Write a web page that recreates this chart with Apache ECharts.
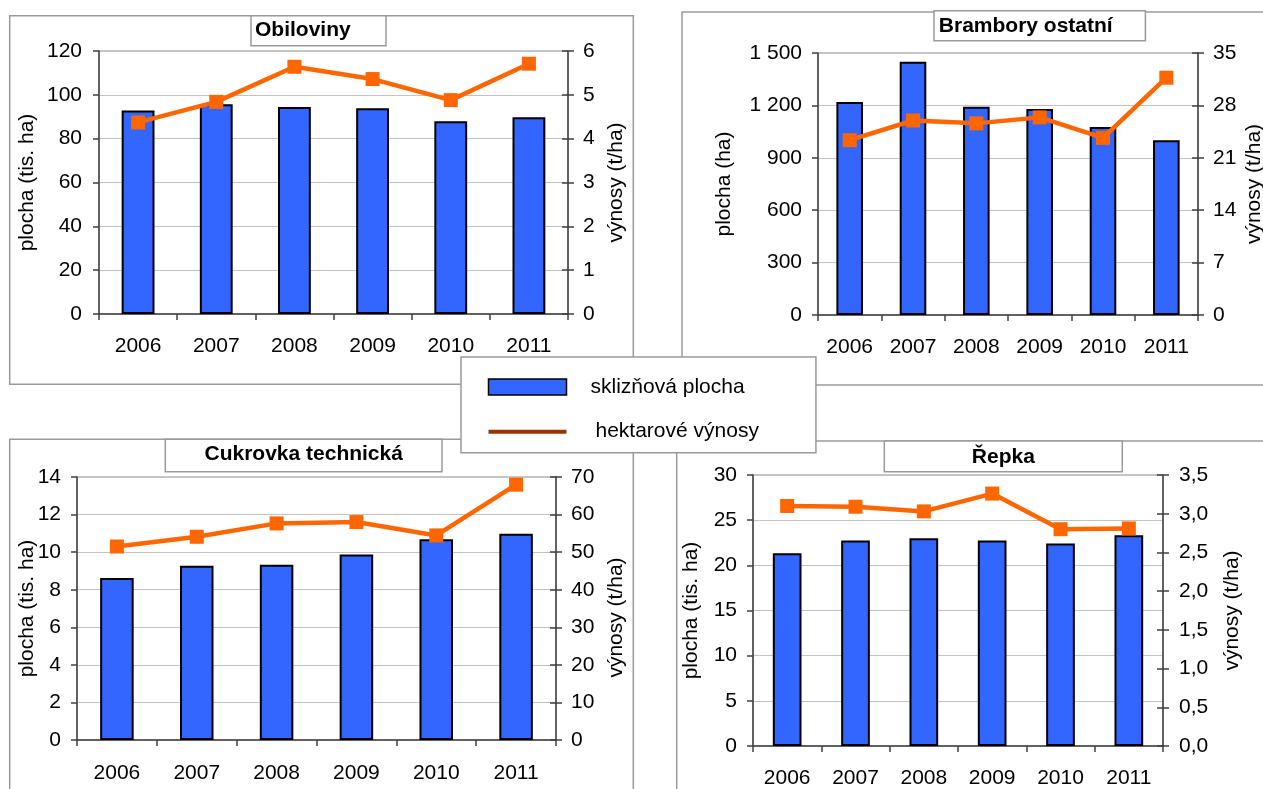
<!DOCTYPE html>
<html>
<head>
<meta charset="utf-8">
<script src="https://cdn.jsdelivr.net/npm/echarts@6/dist/echarts.min.js"></script>
<style>
html,body{margin:0;padding:0;background:#fff;}
#chart{width:1263px;height:789px;}
</style>
</head>
<body>
<div id="chart"></div>
<script>
// ---------- data ----------
const categories = ['2006', '2007', '2008', '2009', '2010', '2011'];
const panelTitles = ['Obiloviny', 'Brambory ostatní', 'Cukrovka technická', 'Řepka'];
const leftAxisNames = ['plocha (tis. ha)', 'plocha (ha)', 'plocha (tis. ha)', 'plocha (tis. ha)'];
const rightAxisName = 'výnosy (t/ha)';
const seriesNames = ['sklizňová plocha', 'hektarové výnosy'];

const obilovinyPlocha = [92.9, 95.7, 94.5, 93.9, 87.9, 89.8];
const obilovinyVynosy = [4.37, 4.84, 5.64, 5.36, 4.88, 5.71];
const bramboryPlocha = [1219, 1450, 1192, 1179, 1077, 1001];
const bramboryVynosy = [23.35, 25.98, 25.6, 26.4, 23.66, 31.7];
const cukrovkaPlocha = [8.62, 9.27, 9.33, 9.88, 10.68, 10.98];
const cukrovkaVynosy = [51.5, 54.1, 57.65, 58.0, 54.45, 67.96];
const repkaPlocha = [21.34, 22.74, 23.0, 22.74, 22.41, 23.33];
const repkaVynosy = [3.1, 3.09, 3.03, 3.26, 2.8, 2.81];

// axis scales: [min, max, interval]
const leftScales = [[0, 120, 20], [0, 1500, 300], [0, 14, 2], [0, 30, 5]];
const rightScales = [[0, 6, 1], [0, 35, 7], [0, 70, 10], [0, 3.5, 0.5]];

const plochaData = [obilovinyPlocha, bramboryPlocha, cukrovkaPlocha, repkaPlocha];
const vynosyData = [obilovinyVynosy, bramboryVynosy, cukrovkaVynosy, repkaVynosy];

// ---------- layout / style ----------
const FONT = '"Liberation Sans", Arial, sans-serif';
const AXIS_COLOR = '#404040';
const FRAME_COLOR = '#9a9a9a';

const gridBoxes = [
  { left: 99, top: 51, width: 469, height: 263 },
  { left: 818, top: 53, width: 380, height: 262 },
  { left: 77, top: 477, width: 479, height: 263 },
  { left: 753, top: 475, width: 410, height: 271 }
];
const leftNameGaps = [61, 83, 39, 51];
const rightNameGaps = [37.5, 45.5, 49.5, 58.5];
const rightNamePadding = [[0, 0, 0, 0], [0, 0, 0, 0], [0, 18, 0, 0], [0, 0, 0, 0]];
const xLabelMargins = [22, 22, 23, 22];
const leftLabelMargins = [17, 16, 16, 16];
const rightLabelMargins = [15, 15, 15, 16];

const frames = [
  { x: 9.7, y: 15.7, width: 623.6, height: 368.6 },
  { x: 682, y: 12, width: 700, height: 373 },
  { x: 9.7, y: 439.3, width: 623.6, height: 400 },
  { x: 676.7, y: 441, width: 700, height: 400 }
];
const titleBoxes = [
  { x: 251, y: 15.7, width: 135, height: 30, tx: 255, ty: 30, align: 'left' },
  { x: 934, y: 10.7, width: 211.4, height: 30, tx: 938.8, ty: 25.8, align: 'left' },
  { x: 165.3, y: 439.3, width: 276.7, height: 32.4, tx: 303.7, ty: 454.7, align: 'center' },
  { x: 884.3, y: 441, width: 238, height: 30.7, tx: 1003.3, ty: 457, align: 'center' }
];

const leftFormatters = [
  v => String(v),
  v => (v >= 1000 ? String(v).replace(/(\d)(\d{3})$/, '$1 $2') : String(v)),
  v => String(v),
  v => String(v)
];
const rightFormatters = [
  v => String(v),
  v => String(v),
  v => String(v),
  v => v.toFixed(1).replace('.', ',')
];

const axisLineStyle = { color: AXIS_COLOR, width: 1.5 };
const labelStyle = { color: '#000', fontSize: 21, fontFamily: FONT };

const grid = [], xAxis = [], yAxis = [], series = [], graphic = [];

for (let i = 0; i < 4; i++) {
  grid.push(Object.assign({}, gridBoxes[i], {
    show: true, borderColor: '#8c8c8c', borderWidth: 1, backgroundColor: 'transparent',
    containLabel: false, outerBoundsMode: 'none'
  }));
  xAxis.push({
    type: 'category', gridIndex: i, data: categories, boundaryGap: true,
    axisLine: { show: true, onZero: false, lineStyle: axisLineStyle },
    axisTick: { show: true, length: 6, inside: false, lineStyle: axisLineStyle },
    axisLabel: Object.assign({ margin: xLabelMargins[i], interval: 0 }, labelStyle),
    splitLine: { show: false }
  });
  const ls = leftScales[i], rs = rightScales[i];
  yAxis.push({
    type: 'value', gridIndex: i, position: 'left',
    min: ls[0], max: ls[1], interval: ls[2],
    name: leftAxisNames[i], nameLocation: 'middle', nameGap: leftNameGaps[i], nameMoveOverlap: false,
    nameTextStyle: { color: '#000', fontSize: 21, fontFamily: FONT },
    axisLine: { show: true, onZero: false, lineStyle: axisLineStyle },
    axisTick: { show: true, length: 6, inside: false, lineStyle: axisLineStyle },
    axisLabel: Object.assign({ margin: leftLabelMargins[i], formatter: leftFormatters[i] }, labelStyle),
    splitLine: { show: true, lineStyle: { color: '#c2c2c2', width: 1 } }
  });
  yAxis.push({
    type: 'value', gridIndex: i, position: 'right',
    min: rs[0], max: rs[1], interval: rs[2],
    name: rightAxisName, nameLocation: 'middle', nameGap: rightNameGaps[i], nameMoveOverlap: false,
    nameTextStyle: { color: '#000', fontSize: 21, fontFamily: FONT, padding: rightNamePadding[i] },
    axisLine: { show: true, onZero: false, lineStyle: axisLineStyle },
    axisTick: { show: true, length: 6, inside: false, lineStyle: axisLineStyle },
    axisLabel: Object.assign({ margin: rightLabelMargins[i], formatter: rightFormatters[i] }, labelStyle),
    splitLine: { show: false }
  });
  // companion axis giving the right axis its inner tick half (crossing ticks)
  yAxis.push({
    type: 'value', gridIndex: i, position: 'right',
    min: rs[0], max: rs[1], interval: rs[2],
    axisLine: { show: false },
    axisTick: { show: true, length: 6, inside: true, lineStyle: axisLineStyle },
    axisLabel: { show: false },
    splitLine: { show: false }
  });
  series.push({
    type: 'bar', name: seriesNames[0], xAxisIndex: i, yAxisIndex: 3 * i,
    data: plochaData[i], barWidth: '42%',
    itemStyle: { color: '#3366FF', borderColor: '#000', borderWidth: 2 },
    emphasis: { disabled: true }, z: 2
  });
  series.push({
    type: 'line', name: seriesNames[1], xAxisIndex: i, yAxisIndex: 3 * i + 1,
    data: vynosyData[i], symbol: 'rect', symbolSize: 14, showAllSymbol: true,
    itemStyle: { color: '#FF6600' }, lineStyle: { color: '#FF6600', width: 4.5 },
    emphasis: { disabled: true }, z: 3
  });

  const f = frames[i];
  graphic.push({
    type: 'rect', silent: true, z: 0,
    shape: { x: f.x, y: f.y, width: f.width, height: f.height },
    style: { fill: 'none', stroke: FRAME_COLOR, lineWidth: 1.5 }
  });
  const t = titleBoxes[i];
  graphic.push({
    type: 'rect', silent: true, z: 1,
    shape: { x: t.x, y: t.y, width: t.width, height: t.height },
    style: { fill: '#fff', stroke: FRAME_COLOR, lineWidth: 1.5 }
  });
  graphic.push({
    type: 'text', silent: true, z: 2, x: t.tx, y: t.ty,
    style: {
      text: panelTitles[i], fill: '#000',
      font: 'bold 21px "Liberation Sans", Arial, sans-serif',
      align: t.align, verticalAlign: 'middle',
      textAlign: t.align, textVerticalAlign: 'middle'
    }
  });
}

const option = {
  animation: false,
  backgroundColor: '#fff',
  textStyle: { fontFamily: FONT },
  grid, xAxis, yAxis, series, graphic,
  tooltip: { show: false },
  legend: {
    orient: 'vertical', left: 461, top: 357,
    padding: [19.5, 57, 10.5, 25.5], itemGap: 23.7,
    itemWidth: 78, itemHeight: 16,
    backgroundColor: '#fff', borderColor: FRAME_COLOR, borderWidth: 1.5, borderRadius: 0,
    selectedMode: false, z: 10,
    textStyle: { fontSize: 21, color: '#000', fontFamily: FONT },
    data: [
      { name: seriesNames[0], icon: 'rect',
        itemStyle: { color: '#3366FF', borderColor: '#000', borderWidth: 1.5 },
        textStyle: { padding: [0, 0, 0, 19] } },
      { name: seriesNames[1],
        itemStyle: { opacity: 0 },
        lineStyle: { color: '#993300', width: 4 },
        textStyle: { padding: [0, 0, 0, 24] } }
    ]
  }
};

const chart = echarts.init(document.getElementById('chart'), null, { renderer: 'canvas' });
chart.setOption(option);
</script>
</body>
</html>
